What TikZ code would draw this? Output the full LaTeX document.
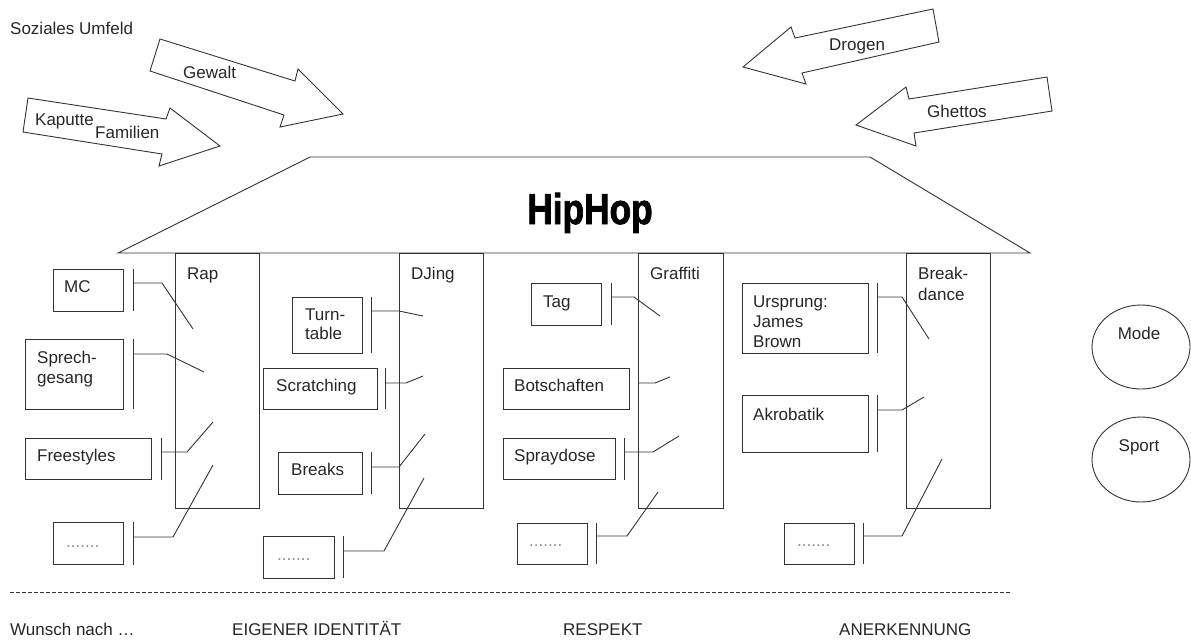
\documentclass[tikz,border=0pt]{standalone}
\usepackage{fontspec}
\setmainfont{Liberation Sans}
\newfontfamily\hipfont{Liberation Sans Bold}[FakeBold=2]
\begin{document}
\begin{tikzpicture}[x=1pt,y=-1pt,
  every node/.style={font=\fontsize{17}{20}\selectfont, text=black!85, inner sep=0pt},
  ln/.style={draw=black!80, line width=0.9pt},
  box/.style={ln, rectangle, anchor=north west, inner sep=0pt, outer sep=0pt},
  lbl/.style={anchor=base west, align=left},
  dots/.style={anchor=base west, text=black!45},
  bar/.style={ln},
  conn/.style={ln},
  blockarrow/.style={ln, line join=miter}]
\useasboundingbox (0,0) rectangle (1191,641);

% roof
\draw[ln] (118,253) -- (310,157) -- (870,157) -- (1030,253) -- cycle;
\node[font=\hipfont\fontsize{43}{43}\selectfont, text=black, anchor=base] (hip) at (590,224) {\scalebox{0.82}[1]{HipHop}};

% columns
\node[box, minimum width=84, minimum height=255] (rap) at (175,253) {};
\node[box, minimum width=84, minimum height=255] (dj) at (399,253) {};
\node[box, minimum width=85, minimum height=255] (graf) at (638,253) {};
\node[box, minimum width=84, minimum height=255] (bd) at (906,253) {};
\node[lbl] (raplbl) at (187,279) {Rap};
\node[lbl] (djlbl) at (411,279) {DJing};
\node[lbl] (graflbl) at (650,279) {Graffiti};
\node[lbl] (bdlbl) at (918,300) {Break-\\[1pt]dance};

% Rap boxes
\node[box, minimum width=70, minimum height=42] (mc) at (53,269) {};
\node[lbl] at (64,292) {MC};
\node[box, minimum width=98, minimum height=70] (sprech) at (25,339) {};
\node[lbl] at (37,383) {Sprech-\\gesang};
\node[box, minimum width=126, minimum height=41] (free) at (25,438) {};
\node[lbl] at (37,461) {Freestyles};
\node[box, minimum width=70, minimum height=42] (d1) at (53,522) {};
\node[dots] at (66,547) {.......};

% DJing boxes
\node[box, minimum width=70, minimum height=56] (turn) at (292,297) {};
\node[lbl] at (305,339) {Turn-\\[-1pt]table};
\node[box, minimum width=114, minimum height=41] (scratch) at (263,368) {};
\node[lbl] at (276,391) {Scratching};
\node[box, minimum width=84, minimum height=42] (breaks) at (278,452) {};
\node[lbl] at (291,475) {Breaks};
\node[box, minimum width=71, minimum height=42] (d2) at (263,536) {};
\node[dots] at (277,560) {.......};

% Graffiti boxes
\node[box, minimum width=70, minimum height=42] (tag) at (531,283) {};
\node[lbl] at (543,307) {Tag};
\node[box, minimum width=126, minimum height=41] (bot) at (503,368) {};
\node[lbl] at (514,391) {Botschaften};
\node[box, minimum width=112, minimum height=41] (spray) at (503,438) {};
\node[lbl] at (514,461) {Spraydose};
\node[box, minimum width=70, minimum height=41] (d3) at (517,523) {};
\node[dots] at (529,546) {.......};

% Breakdance boxes
\node[box, minimum width=126, minimum height=70] (urs) at (742,283) {};
\node[lbl] at (753,347) {Ursprung:\\James\\Brown};
\node[box, minimum width=126, minimum height=57] (akro) at (742,395) {};
\node[lbl] at (753,420) {Akrobatik};
\node[box, minimum width=70, minimum height=41] (d4) at (784,523) {};
\node[dots] at (797,546) {.......};

% bars (brackets)
\coordinate (mcb1) at (133,269); \coordinate (mcb2) at (133,311);
\coordinate (spb1) at (133,339); \coordinate (spb2) at (133,409);
\coordinate (frb1) at (161,438); \coordinate (frb2) at (161,480);
\coordinate (d1b1) at (133,522); \coordinate (d1b2) at (133,565);
\coordinate (tub1) at (371,297); \coordinate (tub2) at (371,353);
\coordinate (scb1) at (385,368); \coordinate (scb2) at (385,409);
\coordinate (brb1) at (371,452); \coordinate (brb2) at (371,494);
\coordinate (d2b1) at (343,536); \coordinate (d2b2) at (343,578);
\coordinate (tab1) at (611,283); \coordinate (tab2) at (611,325);
\coordinate (spyb1) at (624,438); \coordinate (spyb2) at (624,480);
\coordinate (d3b1) at (596,523); \coordinate (d3b2) at (596,564);
\coordinate (urb1) at (877,283); \coordinate (urb2) at (877,353);
\coordinate (akb1) at (877,395); \coordinate (akb2) at (877,452);
\coordinate (d4b1) at (863,523); \coordinate (d4b2) at (863,564);
\foreach \b in {mcb,spb,frb,d1b,tub,scb,brb,d2b,tab,spyb,d3b,urb,akb,d4b}
  \draw[bar] (\b1) -- (\b2);

% connectors
\coordinate (mce) at (193,329);   \draw[conn] (133,283) -- (162,283) -- (mce);
\coordinate (spe) at (204,372);   \draw[conn] (133,354) -- (167,354) -- (spe);
\coordinate (fre) at (213,422);   \draw[conn] (161,452) -- (187,452) -- (fre);
\coordinate (d1e) at (213,465);   \draw[conn] (133,537) -- (173,537) -- (d1e);
\coordinate (tue) at (423,316);   \draw[conn] (371,311) -- (399,311) -- (tue);
\coordinate (sce) at (423,376);   \draw[conn] (385,383) -- (406,383) -- (sce);
\coordinate (bre) at (425,434);   \draw[conn] (371,467) -- (399,467) -- (bre);
\coordinate (d2e) at (424,478);   \draw[conn] (343,551) -- (384,551) -- (d2e);
\coordinate (tae) at (660,316);   \draw[conn] (611,297) -- (634,297) -- (tae);
\coordinate (boe) at (670,377);   \draw[conn] (graf.west |- 0,383) -- (655,383) -- (boe);
\coordinate (spye) at (679,436);  \draw[conn] (624,452) -- (653,452) -- (spye);
\coordinate (d3e) at (658,492);   \draw[conn] (596,536) -- (627,536) -- (d3e);
\coordinate (ure) at (929,339);   \draw[conn] (877,297) -- (902,297) -- (ure);
\coordinate (ake) at (924,397);   \draw[conn] (877,410) -- (902,410) -- (ake);
\coordinate (d4e) at (942,459);   \draw[conn] (863,536) -- (902,536) -- (d4e);

% ellipses
\draw[ln] (1141,347) ellipse [x radius=49, y radius=42];
\node[anchor=base] (mode) at (1139,339) {Mode};
\draw[ln] (1141,459.5) ellipse [x radius=49, y radius=42.5];
\node[anchor=base] (sport) at (1139,451) {Sport};

% block arrows
\draw[blockarrow] (160,39) -- (295,81) -- (298,69) -- (343,114) -- (280,127) -- (284,115) -- (150,71) -- cycle;
\node[lbl] at (183,78) {Gewalt};
\draw[blockarrow] (28,98) -- (166,119) -- (170,108) -- (220,146) -- (159,166) -- (162,154) -- (23,132) -- cycle;
\node[lbl] at (35,125) {Kaputte};
\node[lbl] at (95,138) {Familien};
\draw[blockarrow] (933,9) -- (939,42) -- (802,73) -- (806,84) -- (743,67) -- (791,27) -- (795,38) -- cycle;
\node[lbl] at (829,50) {Drogen};
\draw[blockarrow] (1047,77) -- (1052,111) -- (914,133) -- (916,146) -- (856,125) -- (906,87) -- (909,99) -- cycle;
\node[lbl] at (927,117) {Ghettos};

\node[lbl] at (10,34) {Soziales Umfeld};

% bottom
\draw[draw=black!80, line width=0.8pt, dash pattern=on 4pt off 2pt] (10,592) -- (1010,592);
\node[lbl] at (10,635) {Wunsch nach \dots};
\node[lbl] at (232,635) {EIGENER IDENTITÄT};
\node[lbl] at (563,635) {RESPEKT};
\node[lbl] at (839,635) {ANERKENNUNG};
\end{tikzpicture}
\end{document}
